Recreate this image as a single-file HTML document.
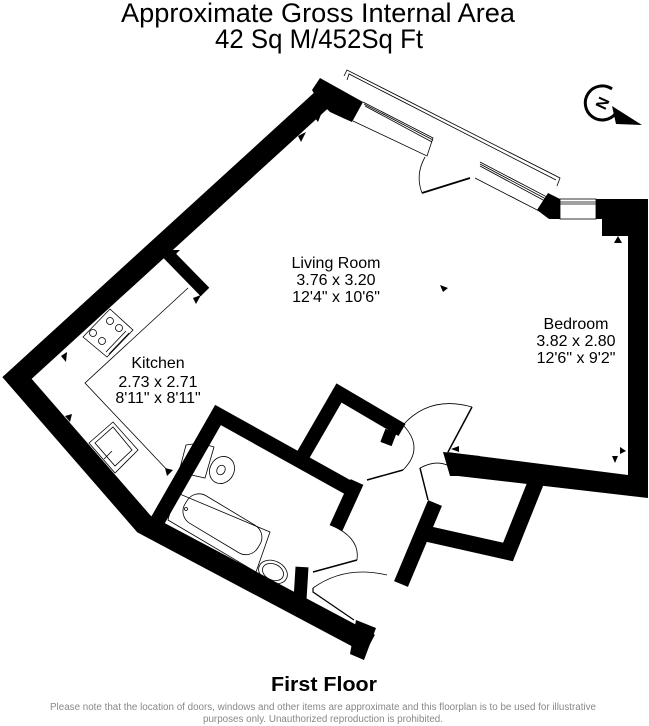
<!DOCTYPE html>
<html><head><meta charset="utf-8"><style>
html,body{margin:0;padding:0;background:#fff;}
svg{display:block;}
text{font-family:"Liberation Sans",sans-serif;}
</style></head><body>
<svg width="649" height="726" viewBox="0 0 649 726" xmlns="http://www.w3.org/2000/svg">
<text x="318" y="22" font-size="27" text-anchor="middle" textLength="394" lengthAdjust="spacingAndGlyphs">Approximate Gross Internal Area</text>
<text x="319" y="48" font-size="27" text-anchor="middle" textLength="208" lengthAdjust="spacingAndGlyphs">42 Sq M/452Sq Ft</text>

<g fill="#000" stroke="none">
<polygon points="320,78 363,102 352,122 343,118 330,112 318,100 312,90"/>
<polygon points="537,210 548,193 560,199 560,219 549,219"/>
<polygon points="596,199 648,199 648,498 458,476 447,452 628,475 628,236 602,236 602,219 596,219"/>
<polygon points="443,452 480,456 478,464 458,462 458,476 450,476"/>
</g>
<g fill="none" stroke="#000" stroke-linejoin="miter" stroke-linecap="butt">
<polyline points="326,96 17,378 144,524 370,644" stroke-width="21"/>
<line x1="166" y1="252" x2="205" y2="292" stroke-width="12"/>
<polyline points="351,489 218,415 158,520" stroke-width="15"/>
<line x1="357" y1="482" x2="336" y2="528" stroke-width="14"/>
<line x1="302" y1="567" x2="300" y2="600" stroke-width="13"/>
<polyline points="302,457 339,393 402,430" stroke-width="14"/>
<line x1="391" y1="431" x2="386" y2="444" stroke-width="12"/>
<line x1="435" y1="503" x2="401" y2="584" stroke-width="15"/>
<polyline points="428,534 508,552 536,482" stroke-width="16"/>
</g>
<polygon points="356,620 376,628 364,660 350,654" fill="#000"/>

<g fill="none" stroke="#000" stroke-width="0.8">
<polyline points="344,76 347,70 560,178 557,186"/>
<polyline points="347,80 349,74 556,180"/>
<polyline points="363,102 433,138 427,156 353,121"/>
<line x1="364" y1="104" x2="433" y2="140"/>
<line x1="365" y1="106" x2="432" y2="142"/>
<polyline points="480,162 547,197 541,212 475,178"/>
<line x1="480" y1="164" x2="546" y2="199"/>
<line x1="480" y1="166" x2="545" y2="201"/>
<path d="M425,157 Q415,175 422,193"/>
<line x1="422" y1="193" x2="470" y2="178" stroke-width="1.8"/>
<rect x="560" y="199" width="36" height="20"/>
<line x1="560" y1="202" x2="596" y2="202"/>
<line x1="560" y1="204" x2="596" y2="204"/>
<polyline points="188,288 85,383 170,473"/>
<polygon points="83,337 110,309 133,330 107,357"/>
<circle cx="110" cy="321" r="3.5"/><circle cx="119" cy="328" r="3.5"/>
<circle cx="93" cy="333" r="3.5"/><circle cx="102" cy="341" r="3.5"/>
<line x1="126" y1="331" x2="106" y2="352"/><line x1="129" y1="333" x2="109" y2="354"/>
<polygon points="89,443 113,422 138,450 115,473"/>
<polygon points="95,443 113,427 132,450 115,466"/>
<line x1="112" y1="451" x2="104" y2="459"/>
<path d="M403,425 Q425,448 403,470"/>
<line x1="403" y1="470" x2="367" y2="480" stroke-width="1.5"/>
<path d="M403,425 Q430,395 472,407"/>
<line x1="472" y1="407" x2="448" y2="452" stroke-width="1.5"/>
<path d="M420,468 Q435,460 447,465"/>
<line x1="420" y1="468" x2="428" y2="500" stroke-width="1.5"/>
<path d="M337,528 Q360,540 357,560"/>
<line x1="357" y1="560" x2="313" y2="572" stroke-width="1.5"/>
<path d="M313,588 Q345,565 387,575"/>
<polyline points="313,588 313,592 354,620" stroke-width="1.2"/>
<polygon points="186,445 200,443 214,447 205,478 187,474 180,468"/>
<ellipse cx="222" cy="470" rx="12" ry="14" transform="rotate(30 222 470)"/>
<ellipse cx="221" cy="470" rx="4" ry="5" transform="rotate(30 221 470)"/>
<polygon points="175,492 168,520 256,572 270,532"/>
<rect x="180" y="508" width="85" height="32" rx="14" transform="rotate(31 222 524)"/>
<circle cx="186" cy="509" r="1.5"/>
<ellipse cx="273" cy="572" rx="15" ry="11" transform="rotate(25 273 572)"/>
<ellipse cx="273" cy="572" rx="11" ry="8" transform="rotate(25 273 572)"/>
</g>

<g fill="#000">
<polygon points="315,118 322,112 318,122"/>
<polygon points="298,136 306,132 301,142"/>
<polygon points="172,250 180,250 174,256"/>
<polygon points="193,298 201,295 196,304"/>
<polygon points="61,356 67,352 66,362"/>
<polygon points="65,416 72,414 70,422"/>
<polygon points="165,468 173,470 167,476"/>
<polygon points="440,285 448,288 443,292"/>
<polygon points="614,243 618,236 622,243"/>
<polygon points="620,447 626,451 620,454"/>
<polygon points="612,456 618,456 615,463"/>
<polygon points="451,449 459,446 459,452"/>
</g>

<g>
<path d="M616,113 A17,17 0 1 1 612,89" fill="none" stroke="#000" stroke-width="3"/>
<polygon points="612,106 642,125 616,124" fill="#000"/>
<text x="602" y="109" font-size="16" font-weight="bold" text-anchor="middle" transform="rotate(-65 602 103)">N</text>
</g>

<g font-size="16" text-anchor="middle" fill="#000">
<text x="336" y="268">Living Room</text>
<text x="336" y="285">3.76 x 3.20</text>
<text x="336" y="302">12'4" x 10'6"</text>
<text x="576" y="329">Bedroom</text>
<text x="576" y="346">3.82 x 2.80</text>
<text x="576" y="363">12'6" x 9'2"</text>
<text x="158" y="368">Kitchen</text>
<text x="158" y="387">2.73 x 2.71</text>
<text x="158" y="403">8'11" x 8'11"</text>
</g>

<text x="324" y="691" font-size="20" font-weight="bold" text-anchor="middle" textLength="106" lengthAdjust="spacingAndGlyphs">First Floor</text>
<text x="323" y="710" font-size="10" fill="#888" text-anchor="middle" textLength="546" lengthAdjust="spacingAndGlyphs">Please note that the location of doors, windows and other items are approximate and this floorplan is to be used for illustrative</text>
<text x="323" y="722" font-size="10" fill="#888" text-anchor="middle" textLength="240" lengthAdjust="spacingAndGlyphs">purposes only. Unauthorized reproduction is prohibited.</text>
</svg>
</body></html>
